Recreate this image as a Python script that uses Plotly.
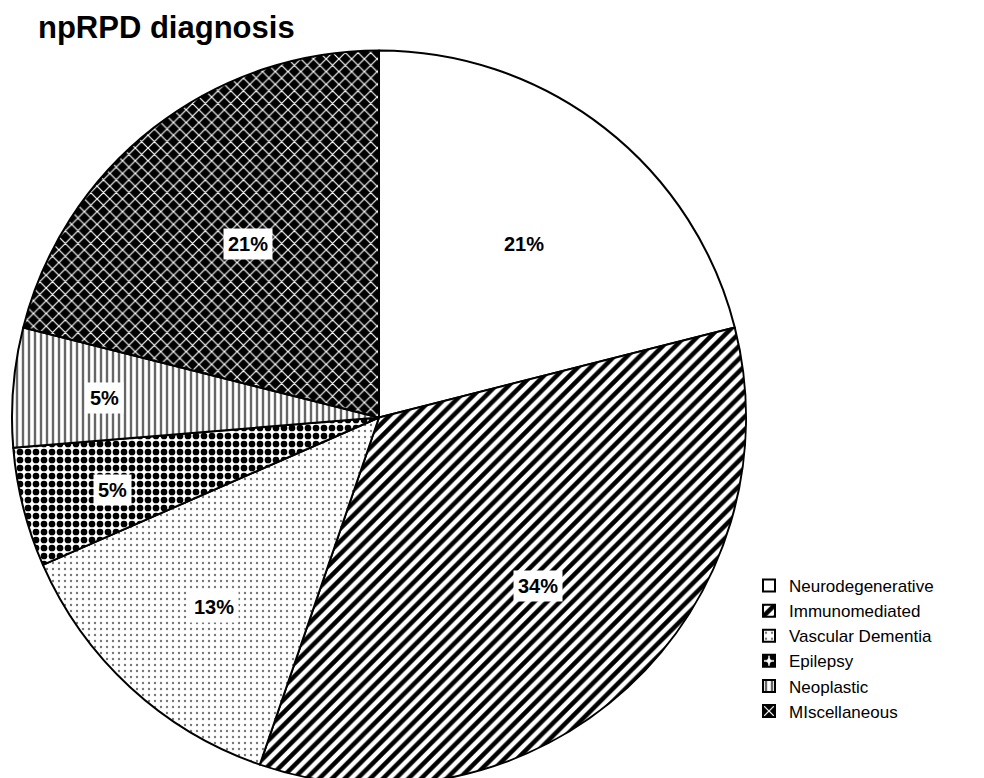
import math
import plotly.graph_objects as go

categories = ["Neurodegenerative", "Immunomediated", "Vascular Dementia",
              "Epilepsy", "Neoplastic", "MIscellaneous"]
counts = [8, 13, 5, 2, 2, 8]
pct_labels = ["21%", "34%", "13%", "5%", "5%", "21%"]

W, H = 984, 778
dom_x = [4 / W, 738 / W]
dom_y = [0.0, 1 - 41 / H]

pattern = dict(
    shape=["", "/", ".", ".", "|", "x"],
    fgcolor=["black", "black", "#777777", "black", "#666666", "white"],
    bgcolor=["white", "white", "white", "white", "white", "black"],
    size=[8, 9, 6, 8, 6, 9],
    solidity=[0.3, 0.5, 0.12, 0.55, 0.4, 0.25],
    fillmode="replace",
)

fig = go.Figure(go.Pie(
    labels=categories, values=counts, sort=False, direction="clockwise",
    rotation=0, textinfo="none", hoverinfo="label+percent",
    marker=dict(colors=["white"] * 6, line=dict(color="black", width=2),
                pattern=pattern),
    domain=dict(x=dom_x, y=dom_y),
))

# percentage labels with white boxes, positioned from slice angles
total = sum(counts)
cx = 378
cy = 413
R = 367
cum = 0
for v, lab in zip(counts, pct_labels):
    share = v / total
    mid = (cum + v / 2) / total * 2 * math.pi
    cum += v
    rf = 0.61 if share > 0.2 else (0.69 if share > 0.1 else 0.77)
    px = cx + math.sin(mid) * R * rf
    py = cy - math.cos(mid) * R * rf
    fig.add_annotation(x=px / W, y=1 - py / H, xref="paper", yref="paper",
                       xanchor="center", yanchor="middle",
                       text="<b>" + lab + "</b>", showarrow=False,
                       font=dict(family="Liberation Sans", size=20, color="black"),
                       bgcolor="white", borderpad=4)

fig.add_annotation(x=28 / W, y=1.0, xref="paper", yref="paper",
                   xanchor="left", yanchor="top", showarrow=False,
                   text="<b>npRPD diagnosis</b>",
                   font=dict(family="Liberation Sans", size=31, color="black"))

fig.update_layout(
    width=W, height=H, margin=dict(l=0, r=0, t=0, b=0),
    paper_bgcolor="white", plot_bgcolor="white",
    showlegend=True,
    legend=dict(x=741 / W, y=1 - 560 / H, xanchor="left", yanchor="top",
                font=dict(family="Liberation Sans", size=17, color="black"),
                itemwidth=30, bgcolor="rgba(0,0,0,0)", tracegroupgap=0),
)

fig.write_html("out.html")
